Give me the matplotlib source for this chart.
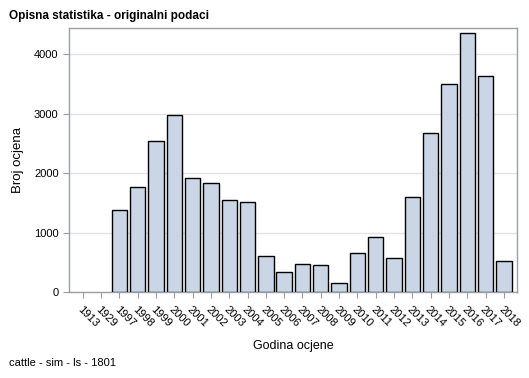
import matplotlib.pyplot as plt
import numpy as np

plt.rcParams["font.family"] = ["Liberation Sans", "DejaVu Sans"]

# Data
years = ["1913", "1929", "1997", "1998", "1999", "2000", "2001", "2002", "2003",
         "2004", "2005", "2006", "2007", "2008", "2009", "2010", "2011", "2012",
         "2013", "2014", "2015", "2016", "2017", "2018"]
counts = [0, 0, 1378, 1765, 2538, 2975, 1916, 1832, 1546, 1513, 602, 333, 467,
          451, 148, 652, 921, 568, 1594, 2669, 3493, 4350, 3622, 521]

bar_color = "#cad5e5"
frame_color = "#9a9fa4"

fig = plt.figure(figsize=(5.29, 3.78), dpi=100)
ax = fig.add_axes([69 / 529, 1 - 292 / 378, 448 / 529, 264 / 378])

x = np.arange(len(years))
edges = ["black" if c > 0 else "none" for c in counts]
ax.bar(x, counts, width=0.84, color=bar_color, edgecolor=edges, linewidth=1.0, zorder=3)

ax.set_xlim(-0.75, len(years) - 1 + 0.72)
ax.set_ylim(0, 4437)
ax.set_yticks([0, 1000, 2000, 3000, 4000])
ax.set_xticks(x)
ax.set_xticklabels(years, rotation=-45, ha="left", rotation_mode="anchor")
ax.yaxis.grid(True, color="#e3e3e3", linewidth=1.0, zorder=0)

for spine in ax.spines.values():
    spine.set_color(frame_color)
    spine.set_linewidth(1.0)
ax.tick_params(colors=frame_color, labelcolor="black", labelsize=8, length=4, width=0.8)
ax.tick_params(axis="x", pad=5)

ax.set_xlabel("Godina ocjene", fontsize=9, labelpad=8)
ax.set_ylabel("Broj ocjena", fontsize=9.5, labelpad=7)

fig.text(9 / 529, 1 - 16 / 378, "Opisna statistika - originalni podaci",
         fontsize=8.5, fontweight="bold", ha="left", va="center")
fig.text(9 / 529, 1 - 363 / 378, "cattle - sim - ls - 1801",
         fontsize=8, ha="left", va="center")

fig.savefig("out.png", dpi=100)
